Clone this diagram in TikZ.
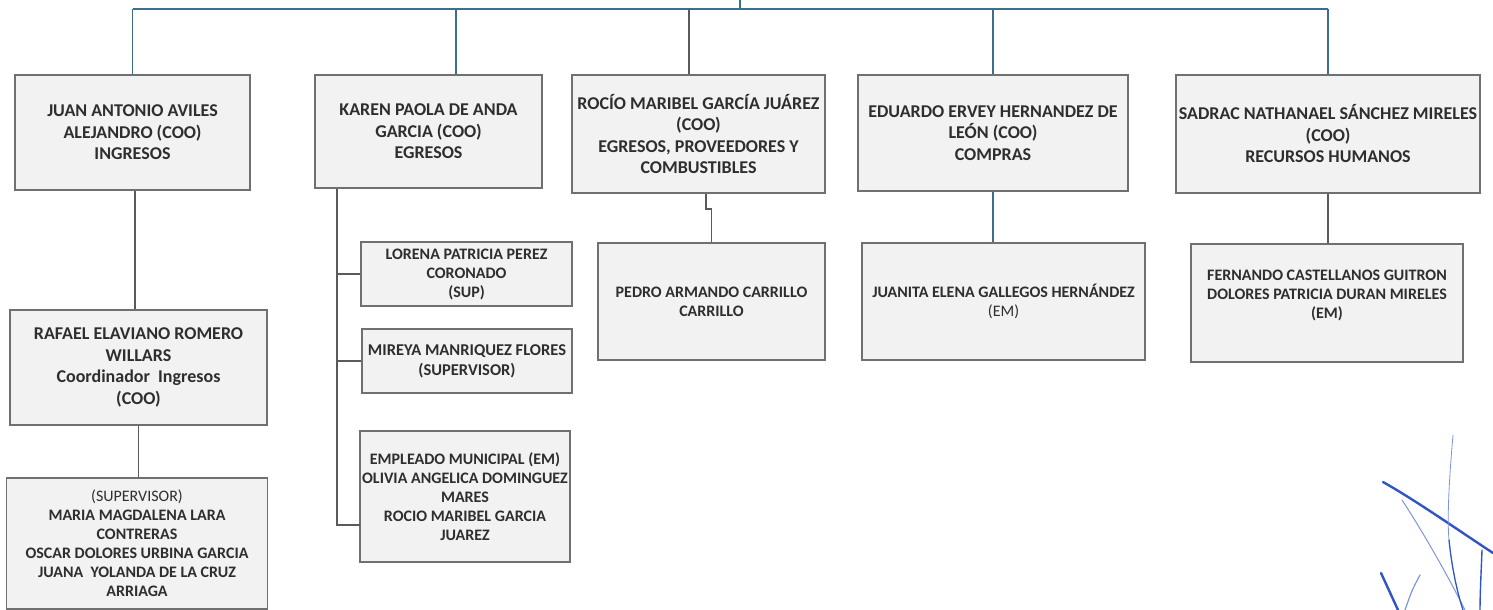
\documentclass[tikz,border=0pt]{standalone}
\usepackage{fontspec}
\setmainfont{Carlito}
\definecolor{boxline}{HTML}{707070}
\definecolor{boxfill}{HTML}{F2F2F2}
\definecolor{topline}{HTML}{3A6F8E}
\definecolor{subline}{HTML}{5A5A5A}
\definecolor{txt}{HTML}{2E2E2E}
\definecolor{sigblue}{HTML}{2F55C8}
\definecolor{sigblue2}{HTML}{7D95DC}
\tikzset{
  box/.style={draw=boxline, line width=1.3pt, fill=boxfill, align=center, text=txt, inner sep=1pt, font=\bfseries},
  big/.style={font=\fontsize{18}{21.5}\selectfont\bfseries},
  small/.style={font=\fontsize{16}{19}\selectfont\bfseries},
  link/.style={line width=1.3pt, topline},
  sublink/.style={line width=1.3pt, subline},
  sig/.style={sigblue, line cap=round},
  sigb/.style={sigblue2, line cap=round}
}
\begin{document}
\begin{tikzpicture}[x=1pt,y=-1pt]
\useasboundingbox (0,0) rectangle (1493,610);
% top level boxes
\node[box,big,minimum width=235pt,minimum height=115pt] (b1) at (132.5,132.5)
 {JUAN ANTONIO AVILES\\ALEJANDRO (COO)\\INGRESOS};
\node[box,big,minimum width=227pt,minimum height=113pt] (b2) at (428.5,131.5)
 {KAREN PAOLA DE ANDA\\GARCIA (COO)\\EGRESOS};
\node[box,big,minimum width=253pt,minimum height=118pt] (b3) at (698.5,134)
 {ROCÍO MARIBEL GARCÍA JUÁREZ\\(COO)\\EGRESOS, PROVEEDORES Y\\COMBUSTIBLES};
\node[box,big,minimum width=270pt,minimum height=116pt] (b4) at (993,133)
 {EDUARDO ERVEY HERNANDEZ DE\\LEÓN (COO)\\COMPRAS};
\node[box,big,minimum width=304pt,minimum height=118pt] (b5) at (1328,134)
 {SADRAC NATHANAEL SÁNCHEZ MIRELES\\(COO)\\RECURSOS HUMANOS};
% top connectors
\coordinate (root) at (740,0);
\coordinate (bar) at (740,9);
\draw[link] (root) -- (bar);
\draw[link] (b1.north |- bar) -- (b5.north |- bar);
\draw[link] (b1.north |- bar) -- (b1.north);
\coordinate (d2) at (456,9);
\draw[link] (d2) -- (d2 |- b2.north);
\coordinate (d3) at (689,9);
\draw[sublink] (d3) -- (d3 |- b3.north);
\draw[link] (b4.north |- bar) -- (b4.north);
\draw[link] (b5.north |- bar) -- (b5.north);
% branch 1
\node[box,big,minimum width=257pt,minimum height=115pt] (raf) at (138.5,367.5)
 {RAFAEL ELAVIANO ROMERO\\WILLARS\\Coordinador\ \ Ingresos\\(COO)};
\node[box,small,minimum width=261pt,minimum height=131pt] (sup) at (137,543.5)
 {{\mdseries (SUPERVISOR)}\\MARIA MAGDALENA LARA\\CONTRERAS\\OSCAR DOLORES URBINA GARCIA\\JUANA\ \ YOLANDA DE LA CRUZ\\ARRIAGA};
\coordinate (c1) at (135,0);
\draw[sublink] (c1 |- b1.south) -- (c1 |- raf.north);
\draw[sublink] (raf.south) -- (raf.south |- sup.north);
% branch 2
\node[box,small,minimum width=211pt,minimum height=64pt] (lor) at (466.5,274)
 {LORENA PATRICIA PEREZ\\CORONADO\\(SUP)};
\node[box,font=\fontsize{16.5}{20}\selectfont\bfseries,minimum width=210pt,minimum height=64pt] (mir) at (467,361)
 {MIREYA MANRIQUEZ FLORES\\(SUPERVISOR)};
\node[box,small,minimum width=210pt,minimum height=131pt] (emp) at (465,496.5)
 {EMPLEADO MUNICIPAL (EM)\\OLIVIA ANGELICA DOMINGUEZ\\MARES\\ROCIO MARIBEL GARCIA\\JUAREZ};
\coordinate (kx) at (337,0);
\coordinate (empin) at (360,525);
\draw[sublink] (kx |- b2.south) -- (kx |- empin) -- (empin);
\draw[sublink] (kx |- lor.west) -- (lor.west);
\draw[sublink] (kx |- mir.west) -- (mir.west);
% branch 3
\node[box,small,minimum width=227pt,minimum height=117pt] (ped) at (711.5,301.5)
 {PEDRO ARMANDO CARRILLO\\CARRILLO};
\coordinate (j3) at (706,209);
\draw[sublink] (j3 |- b3.south) -- (j3) -- (ped.north |- j3) -- (ped.north);
% branch 4
\node[box,small,minimum width=283pt,minimum height=117pt] (jua) at (1003.5,301.5)
 {JUANITA ELENA GALLEGOS HERNÁNDEZ\\{\mdseries (EM)}};
\draw[link] (b4.south) -- (b4.south |- jua.north);
% branch 5
\node[box,small,minimum width=272pt,minimum height=118pt,text depth=18pt] (fer) at (1327,303)
 {FERNANDO CASTELLANOS GUITRON\\DOLORES PATRICIA DURAN MIRELES\\(EM)};
\draw[sublink] (b5.south) -- (b5.south |- fer.north);
% signature
\draw[sig, line width=2.4pt] (1383,482) .. controls (1415,500) and (1455,528) .. (1493,553);
\draw[sigb, line width=1pt] (1402,500) .. controls (1425,535) and (1450,580) .. (1465,610);
\draw[sigb, line width=0.8pt] (1453,435) .. controls (1449,480) and (1447,520) .. (1449,540);
\draw[sig, line width=1.3pt] (1449,540) .. controls (1452,570) and (1458,595) .. (1463,610);
\draw[sig, line width=1.4pt] (1482,550) .. controls (1481,575) and (1480,595) .. (1480,610);
\draw[sig, line width=2.4pt] (1381,573) -- (1398,610);
\draw[sigb, line width=1.2pt] (1420,575) .. controls (1412,590) .. (1405,610);
\end{tikzpicture}
\end{document}
